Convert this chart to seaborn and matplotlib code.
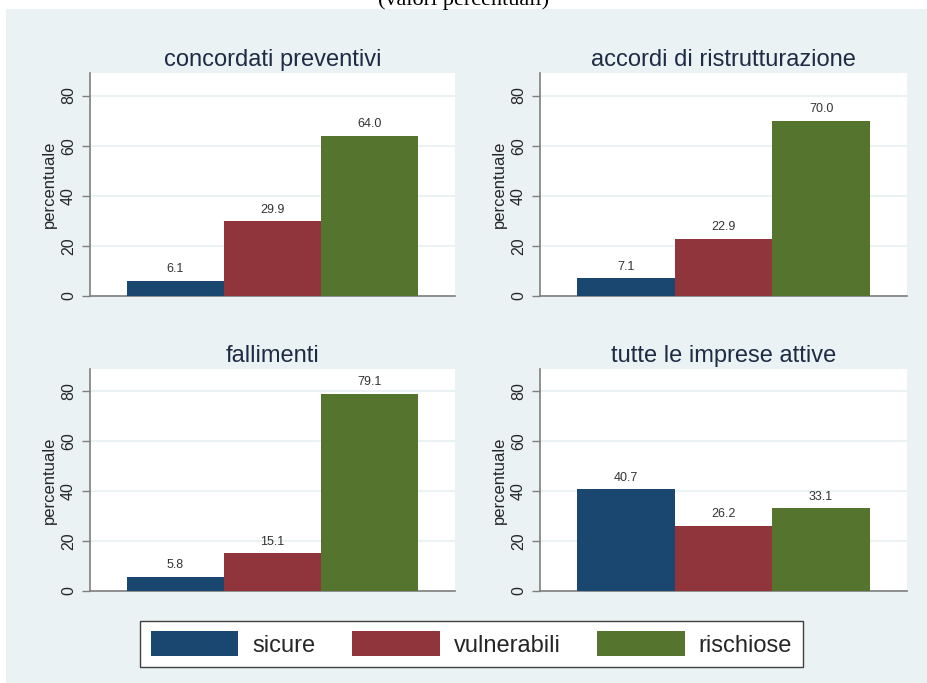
import matplotlib
matplotlib.use('Agg')
import matplotlib.pyplot as plt
import matplotlib.patches as mpatches
import pandas as pd
import seaborn as sns

# Data
groups = ["sicure", "vulnerabili", "rischiose"]
panel_titles = ["concordati preventivi", "accordi di ristrutturazione",
                "fallimenti", "tutte le imprese attive"]
concordati = [6.1, 29.9, 64.0]
accordi = [7.1, 22.9, 70.0]
fallimenti = [5.8, 15.1, 79.1]
imprese_attive = [40.7, 26.2, 33.1]
y_ticks = [0, 20, 40, 60, 80]

colors = ["#1a476f", "#90353b", "#55752f"]
bg = "#eaf2f3"
title_col = "#1e2b45"

sns.set_theme(style="white")
plt.rcParams['font.family'] = ['Liberation Sans', 'DejaVu Sans']

fig = plt.figure(figsize=(9.28, 6.83), dpi=100)
fig.patch.set_facecolor("white")

# light Stata-like backdrop, with a thin white strip at the top
fig.patches.append(mpatches.Rectangle((6 / 928, 0), 1, 1 - 9 / 683,
                                      transform=fig.transFigure,
                                      facecolor=bg, edgecolor="none", zorder=-5))
# subtitle of the original figure, cut by the crop at the top edge
fig.text(0.5, 1 - 5 / 683, "(valori percentuali)", ha="center", va="baseline",
         fontsize=16, family=["Liberation Serif", "DejaVu Serif"], color="black")

# axes boxes in pixels: left, top, right, bottom
boxes = [(90, 73, 455, 296), (540, 73, 907, 296),
         (90, 369, 455, 591), (540, 369, 907, 591)]
series = [concordati, accordi, fallimenti, imprese_attive]

for (l, t, r, b), title, vals in zip(boxes, panel_titles, series):
    ax = fig.add_axes([l / 928, 1 - b / 683, (r - l) / 928, (b - t) / 683])
    df = pd.DataFrame({"gruppo": groups, "valore": vals})
    sns.barplot(data=df, x="gruppo", y="valore", hue="gruppo", palette=colors,
                width=1, linewidth=0, saturation=1, legend=False, ax=ax,
                zorder=3)
    for cont in ax.containers:
        ax.bar_label(cont, fmt="%.1f", padding=4, fontsize=9, color="#333333")
    ax.set_facecolor("white")
    ax.set_xlim(-0.88, 2.88)
    ax.set_ylim(0, 89)
    ax.set_yticks(y_ticks)
    ax.set_yticklabels([str(v) for v in y_ticks], rotation=90, va="center",
                       fontsize=11.5)
    ax.set_xticks([])
    ax.set_xlabel("")
    ax.set_ylabel("percentuale", fontsize=12, labelpad=3)
    ax.yaxis.grid(True, color=bg, linewidth=1.5, zorder=0)
    ax.set_axisbelow(True)
    ax.tick_params(axis="y", length=6, width=1, color="#7f7f7f", pad=4,
                   left=True)
    for side in ["top", "right"]:
        ax.spines[side].set_visible(False)
    for side in ["left", "bottom"]:
        ax.spines[side].set_color("#7f7f7f")
        ax.spines[side].set_linewidth(1.2)
    ax.set_title(title, fontsize=17, color=title_col, pad=5)

handles = [mpatches.Patch(facecolor=c, edgecolor="none", label=g)
           for c, g in zip(colors, groups)]
leg = fig.legend(handles=handles, loc="center", ncol=3,
                 bbox_to_anchor=(471.5 / 928, 1 - 644 / 683),
                 fontsize=17, handlelength=3.7, handleheight=1.25,
                 handletextpad=0.6, columnspacing=1.55, fancybox=False,
                 frameon=True, borderpad=0.45)
leg.get_frame().set_edgecolor("#404040")
leg.get_frame().set_linewidth(1.0)
leg.get_frame().set_facecolor("white")
leg.get_frame().set_alpha(1)

fig.savefig("out.png", dpi=100, facecolor=fig.get_facecolor())
